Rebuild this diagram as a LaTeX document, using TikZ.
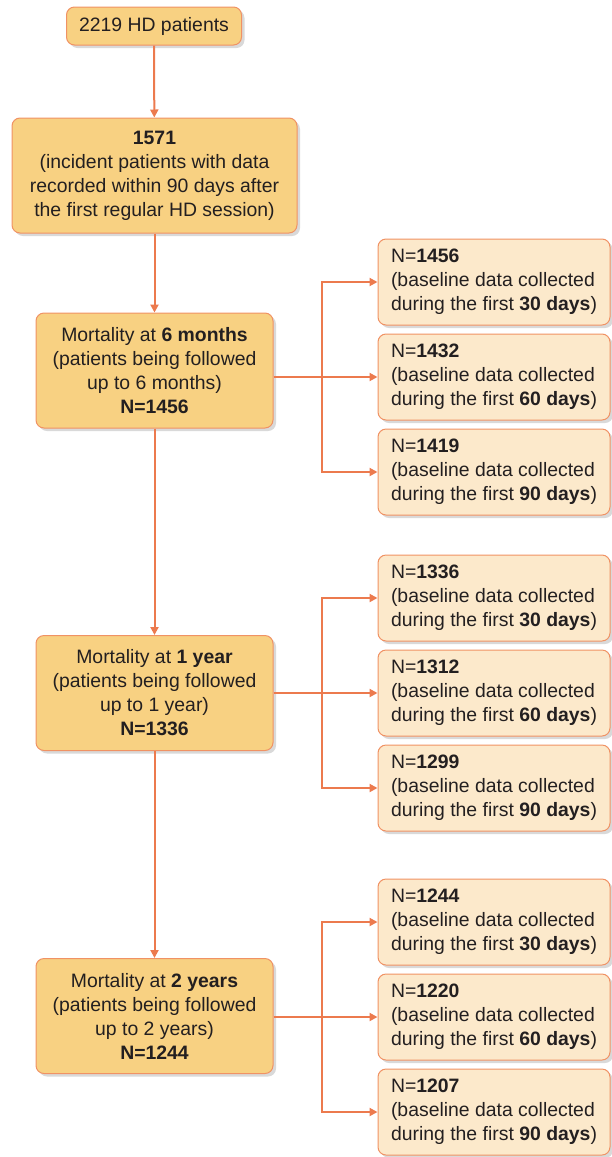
\documentclass[tikz,border=0pt]{standalone}
\usepackage{fontspec}
\setmainfont{Liberation Sans}
\usetikzlibrary{shadows,arrows.meta}
\definecolor{boxfill}{RGB}{248,209,130}
\definecolor{sidefill}{RGB}{252,233,203}
\definecolor{edgeorange}{RGB}{240,146,100}
\definecolor{arroworange}{RGB}{236,122,78}
\definecolor{textgray}{RGB}{35,31,32}
\begin{document}
\begin{tikzpicture}[x=1pt,y=-1pt,
  mainbox/.style={draw=edgeorange,fill=boxfill,line width=1pt,rounded corners=8pt,align=center,inner sep=0pt,
    font=\fontsize{19.4}{24}\selectfont,text=textgray,
    drop shadow={shadow xshift=3pt,shadow yshift=-3pt,opacity=0.3}},
  sidebox/.style={draw=edgeorange,fill=sidefill,line width=1pt,rounded corners=8pt,align=left,inner sep=0pt,
    minimum width=232pt,minimum height=86pt,font=\fontsize{19.4}{24}\selectfont,text=textgray,
    drop shadow={shadow xshift=3pt,shadow yshift=-3pt,opacity=0.3}},
  arr/.style={draw=arroworange,line width=2pt,-{Triangle[length=8pt,width=8pt]}}]
	\useasboundingbox (0,0) rectangle (611,1157);

	\node [mainbox,minimum width=175pt,minimum height=38pt] (top) at (154,26) {2219 HD patients};
	\node [mainbox,minimum width=285pt,minimum height=115pt] (inc) at (154.5,175.5)
	  {\textbf{1571}\\(incident patients with data\\recorded within 90 days after\\the first regular HD session)};
	\node [mainbox,minimum width=237pt,minimum height=115pt] (m6) at (154.5,370.5)
	  {Mortality at \textbf{6 months}\\(patients being followed\\up to 6 months)\\\textbf{N=1456}};
	\node [mainbox,minimum width=237pt,minimum height=115pt] (m12) at (154.5,693)
	  {Mortality at \textbf{1 year}\\(patients being followed\\up to 1 year)\\\textbf{N=1336}};
	\node [mainbox,minimum width=237pt,minimum height=115pt] (m24) at (154.5,1016)
	  {Mortality at \textbf{2 years}\\(patients being followed\\up to 2 years)\\\textbf{N=1244}};

	\draw [arr] (top) -- (inc);
	\draw [arr] (inc) -- (m6);
	\draw [arr] (m6) -- (m12);
	\draw [arr] (m12) -- (m24);

	\foreach \g/\y/\na/\nb/\nc in {m6/282/1456/1432/1419, m12/598/1336/1312/1299, m24/922/1244/1220/1207}
	  {\foreach \n/\d/\k [count=\i from 0] in {\na/30/a,\nb/60/b,\nc/90/c}
		 \node [sidebox] (\g\k) at (494,{\y+95*\i})
		   {N=\textbf{\n}\\(baseline data collected\\during the first \textbf{\d~days})};
	   \coordinate (\g j) at (322,{\y+95});
	   \draw [arr] (\g.east |- \g b.west) -- (\g b.west);
	   \draw [arr] (\g j) |- (\g a.west);
	   \draw [arr] (\g j) |- (\g c.west);}

\end{tikzpicture}
\end{document}
